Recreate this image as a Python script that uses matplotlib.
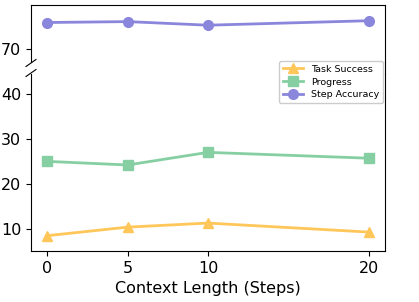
import matplotlib
matplotlib.use("Agg")
import matplotlib.pyplot as plt
from matplotlib.lines import Line2D

# data
context_len = [0, 5, 10, 20]
task_success = [8.5, 10.4, 11.3, 9.3]
progress = [25.0, 24.2, 27.0, 25.7]
step_accuracy = [75.9, 76.1, 75.3, 76.3]

series = [
    ("Task Success", task_success, "#FFC65A", "^"),
    ("Progress", progress, "#86CFA3", "s"),
    ("Step Accuracy", step_accuracy, "#8A86DC", "o"),
]

W, H = 419, 302
fig = plt.figure(figsize=(W / 100, H / 100), dpi=100)

left, right = 31 / W, 385 / W
ax_top = fig.add_axes([left, 1 - 62 / H, right - left, 57 / H])
ax_bot = fig.add_axes([left, 1 - 251 / H, right - left, 177 / H])

for ax in (ax_top, ax_bot):
    for name, vals, col, mk in series:
        ax.plot(context_len, vals, color=col, marker=mk, markersize=7,
                linewidth=2, label=name)
    ax.set_xlim(-1, 21)
    ax.tick_params(labelsize=11.5)

ax_top.set_ylim(67.1, 79.8)
ax_top.set_yticks([70])
ax_top.spines["bottom"].set_visible(False)
ax_top.tick_params(axis="x", bottom=False, labelbottom=False)

ax_bot.set_ylim(5.1, 44.4)
ax_bot.set_yticks([10, 20, 30, 40])
ax_bot.spines["top"].set_visible(False)
ax_bot.set_xticks(context_len)
ax_bot.set_xlabel("Context Length (Steps)", fontsize=11.5)

# keep the right spine continuous across the gap
fig.add_artist(Line2D([right, right], [1 - 62 / H, 1 - 74 / H],
                      color="black", linewidth=0.8))

# break marks on the left spine
d = 5 / W
for yy in (1 - 63 / H, 1 - 73 / H):
    fig.add_artist(Line2D([left - d, left + d], [yy - 3.5 / H, yy + 3.5 / H],
                          color="black", linewidth=0.8))

fig.legend(handles=ax_bot.get_lines(), loc="upper right",
           bbox_to_anchor=(383 / W, 1 - 61 / H), borderaxespad=0,
           fontsize=6.8, handlelength=2.2, labelspacing=0.4, framealpha=1)

fig.savefig("out.png", dpi=100)
